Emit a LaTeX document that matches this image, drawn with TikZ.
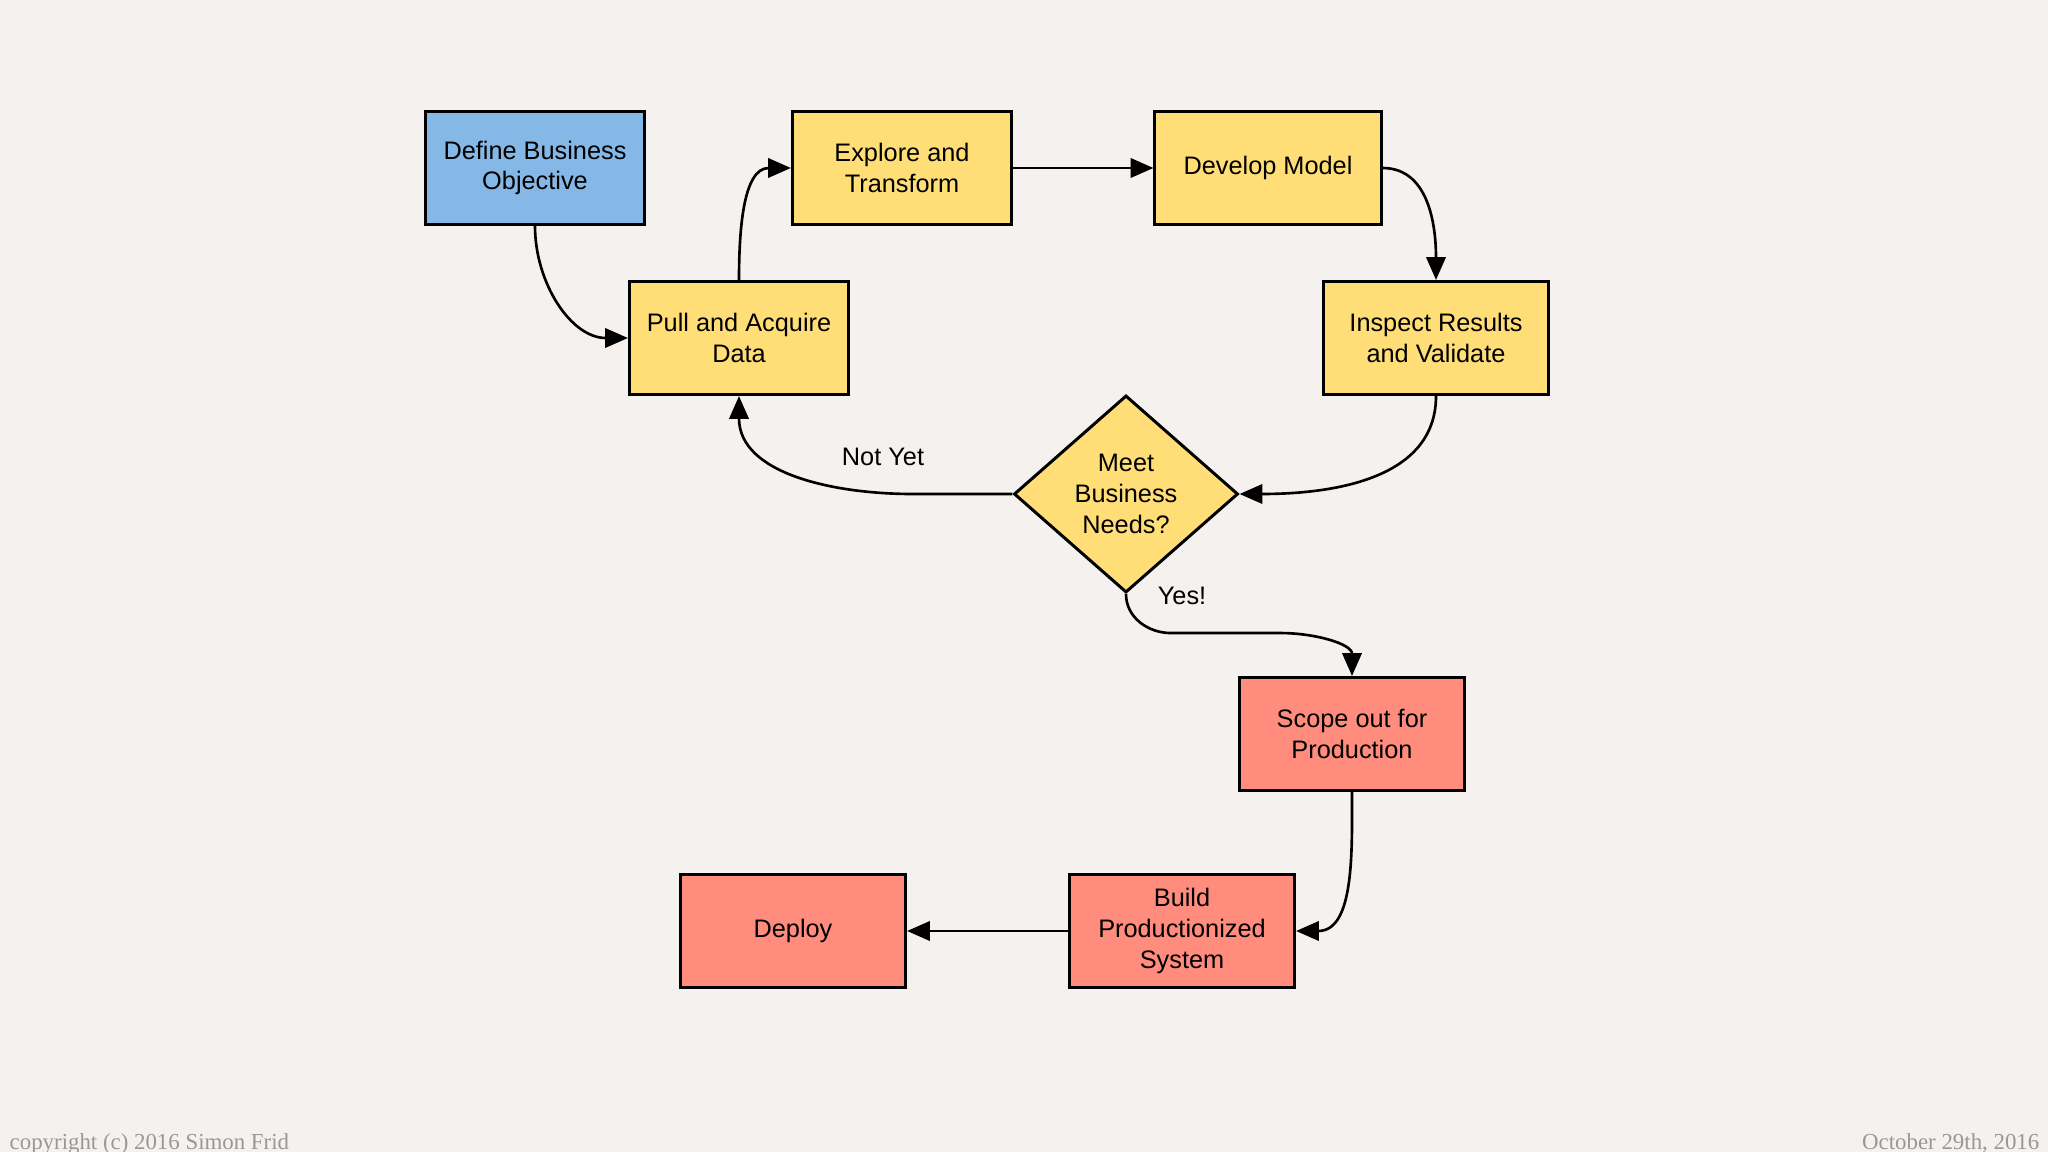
\documentclass[tikz,border=0pt]{standalone}
\usepackage{fontspec}
\setmainfont{Liberation Sans}
\newfontfamily\footfont{Liberation Serif}
\definecolor{paper}{HTML}{F4F1EE}
\definecolor{footgray}{HTML}{9A9796}
\definecolor{myblue}{HTML}{85B8E6}
\definecolor{myyellow}{HTML}{FFDE78}
\definecolor{myred}{HTML}{FF8C7C}
\usetikzlibrary{shapes.geometric, arrows.meta}
\tikzset{
	stepbox/.style={draw=black, line width=0.85pt, minimum width=2.19cm, minimum height=1.13cm,
	  align=center, font=\fontsize{7.2}{8.7}\selectfont}
}
\tikzset{
	decision/.style={stepbox, diamond, minimum width=2.24cm, minimum height=1.97cm, inner sep=0pt}
}
\tikzset{
	arr/.style={line width=0.75pt, -{Triangle[length=6.5pt,width=5.5pt]}},
	edgetext/.style={font=\fontsize{7.2}{8.7}\selectfont},
	foottext/.style={font=\footfont\fontsize{6.5}{7}\selectfont, text=footgray, inner sep=0pt}
}

\begin{document}
\begin{tikzpicture}[x=0.01cm, y=0.01cm]
      \fill[paper] (0,0) rectangle (2048,-1152);
      \useasboundingbox (0,0) rectangle (2048,-1152);
      % steps of the loop
      \node[stepbox, fill=myblue] (define) at (535,-168) {Define Business\\Objective};
      \node[stepbox, fill=myyellow] (explore) at (902,-168) {Explore and\\Transform};
      \node[stepbox, fill=myyellow, minimum width=2.26cm] (develop) at (1268,-168) {Develop Model};
      \node[stepbox, fill=myyellow] (pull) at (739,-338) {Pull and Acquire\\Data};
      \node[stepbox, fill=myyellow, minimum width=2.25cm] (inspect) at (1436,-338) {Inspect Results\\and Validate};
      \node[decision, fill=myyellow] (meet) at (1126,-494) {Meet\\Business\\Needs?};
      % production steps
      \node[stepbox, fill=myred, minimum width=2.25cm] (scope) at (1352,-734) {Scope out for\\Production};
      \node[stepbox, fill=myred, minimum width=2.25cm] (build) at (1182,-931) {Build\\Productionized\\System};
      \node[stepbox, fill=myred, minimum width=2.25cm] (deploy) at (793,-931) {Deploy};
      % curved connectors
      \foreach \a/\b/\o/\i in {define.south/pull.west/-90/180, pull.north/explore.west/90/180,
        develop.east/inspect.north/0/90, inspect.south/meet.east/-90/0, scope.south/build.east/-90/0}
        \draw[arr] (\a) to[out=\o,in=\i] (\b);
      \draw[arr] (explore.east) -- (develop.west);
      \draw[arr] (build.west) -- (deploy.east);
      \draw[arr] (meet.west) -- ++(-100,0) to[out=180,in=-90] (pull.south);
      \draw[arr] (meet.south) to[out=-90,in=180] ++(45,-39) -- ++(110,0) to[out=0,in=90] (scope.north);
      \node[edgetext] (notyet) at (883,-457) {Not Yet};
      \node[edgetext] (yes) at (1182,-596) {Yes!};
      % footer
      \node[foottext, anchor=base west] (copy) at (9,-1149) {copyright (c) 2016 Simon Frid};
      \node[foottext, anchor=base east] (date) at (2040,-1149) {October 29th, 2016};
    \end{tikzpicture}
\end{document}
